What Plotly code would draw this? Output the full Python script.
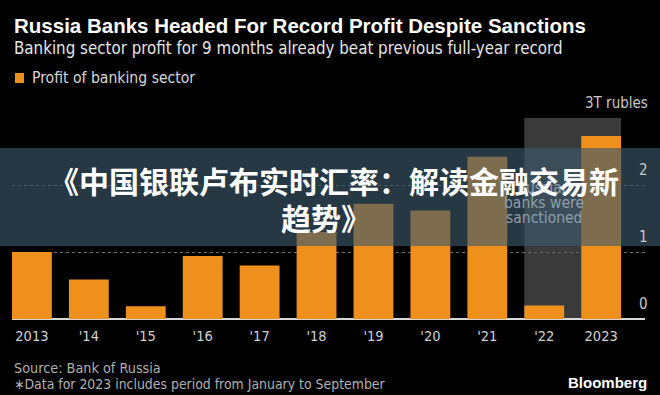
import plotly.graph_objects as go

years = ["2013", "'14", "'15", "'16", "'17", "'18", "'19", "'20", "'21", "'22", "2023"]
profit = [1.00, 0.59, 0.19, 0.94, 0.80, 1.30, 1.72, 1.62, 2.42, 0.20, 2.73]
y_ticks = [0, 1, 2, 3]
y_tick_text = ["0", "1", "2", "3T rubles"]
note_lines = ["Russian", "banks were", "sanctioned"]

W, H = 660, 395
L, R, T, B = 12, 645, 118, 319  # plot area in pixels


def px(x):
    return (x - L) / (R - L)


def py(y):
    return (B - y) / (B - T)


NARROW = "DejaVu Sans Condensed, sans-serif"
ORANGE = "#F0901C"

fig = go.Figure()
fig.add_trace(go.Bar(
    x=list(range(len(years))), y=profit, marker=dict(color=ORANGE, line=dict(width=0)),
    name="Profit of banking sector", showlegend=False, hoverinfo="skip",
))

fig.update_layout(
    width=W, height=H,
    margin=dict(l=L, r=W - R, t=T, b=H - B),
    paper_bgcolor="#000000", plot_bgcolor="#000000",
    bargap=0.3,
    xaxis=dict(
        range=[-0.35, 10.77], tickmode="array", tickvals=list(range(len(years))), ticktext=years,
        showgrid=False, zeroline=False, showline=False, ticks="outside", ticklen=4, tickcolor="#000000",
        tickfont=dict(family=NARROW, size=14.5, color="#d0d0d0"),
    ),
    yaxis=dict(
        range=[0, 3], tickmode="array", tickvals=y_ticks, showticklabels=False,
        showgrid=True, gridcolor="#6a6a6a", griddash="dot", gridwidth=1,
        zeroline=True, zerolinecolor="#d8d8d8", zerolinewidth=2,
    ),
    font=dict(family=NARROW),
)

# y tick labels (above gridlines, right aligned)
for v, t in zip(y_ticks, y_tick_text):
    fig.add_annotation(xref="paper", yref="y", x=px(650), y=v, yshift=4, text=t, showarrow=False,
                       xanchor="right", yanchor="bottom",
                       font=dict(family=NARROW, size=15, color="#c8c8c8"))

# Sanction period shading
fig.add_shape(type="rect", xref="x", yref="y", x0=8.65, x1=10.35, y0=0, y1=3,
              fillcolor="#3a3a3a", line=dict(width=0), layer="below")
for line, yy in zip(note_lines, [188, 203, 218]):
    fig.add_annotation(xref="x", yref="paper", x=9, y=py(yy), text=line,
                       showarrow=False, font=dict(family=NARROW, size=15.5, color="#8e9eab"),
                       xanchor="center", yanchor="middle")

# Titles
fig.add_annotation(xref="paper", yref="paper", x=px(12), y=py(25), xanchor="left", yanchor="middle",
                   text="<b>Russia Banks Headed For Record Profit Despite Sanctions</b>", showarrow=False,
                   font=dict(family="Liberation Sans, Arial, sans-serif", size=20.5, color="#ffffff"))
fig.add_annotation(xref="paper", yref="paper", x=px(12), y=py(48), xanchor="left", yanchor="middle",
                   text="Banking sector profit for 9 months already beat previous full-year record", showarrow=False,
                   font=dict(family=NARROW, size=16.8, color="#e6e6e6"))
# Legend
fig.add_shape(type="rect", xref="paper", yref="paper", x0=px(15), x1=px(24), y0=py(83), y1=py(73),
              fillcolor=ORANGE, line=dict(width=0))
fig.add_annotation(xref="paper", yref="paper", x=px(30), y=py(78), xanchor="left", yanchor="middle",
                   text="Profit of banking sector", showarrow=False,
                   font=dict(family=NARROW, size=15.6, color="#d8d8d8"))
# Footer
fig.add_annotation(xref="paper", yref="paper", x=px(12), y=py(368), xanchor="left", yanchor="middle",
                   text="Source: Bank of Russia", showarrow=False,
                   font=dict(family=NARROW, size=14.3, color="#b0b0b0"))
fig.add_annotation(xref="paper", yref="paper", x=px(12), y=py(384), xanchor="left", yanchor="middle",
                   text="∗Data for 2023 includes period from January to September", showarrow=False,
                   font=dict(family=NARROW, size=13.9, color="#b0b0b0"))
fig.add_annotation(xref="paper", yref="paper", x=px(649), y=py(382), xanchor="right", yanchor="middle",
                   text="<b>Bloomberg</b>", showarrow=False,
                   font=dict(family="Liberation Sans, Arial, sans-serif", size=15, color="#ffffff"))

# Overlay banner
fig.add_shape(type="rect", xref="paper", yref="paper", x0=px(0), x1=px(660), y0=py(246), y1=py(148),
              fillcolor="rgba(61,87,108,0.64)", line=dict(width=0), layer="above")
CJK = "Noto Sans CJK SC, sans-serif"
fig.add_annotation(xref="paper", yref="paper", x=px(334), y=py(180), xanchor="center", yanchor="middle",
                   text="<b>《中国银联卢布实时汇率：解读金融交易新</b>", showarrow=False,
                   font=dict(family=CJK, size=30, color="#ffffff"))
fig.add_annotation(xref="paper", yref="paper", x=px(326), y=py(217), xanchor="center", yanchor="middle",
                   text="<b>趋势》</b>", showarrow=False,
                   font=dict(family=CJK, size=30, color="#ffffff"))

fig.write_html("out.html", config={"displayModeBar": False},
               post_script="document.body.style.margin='0';")
